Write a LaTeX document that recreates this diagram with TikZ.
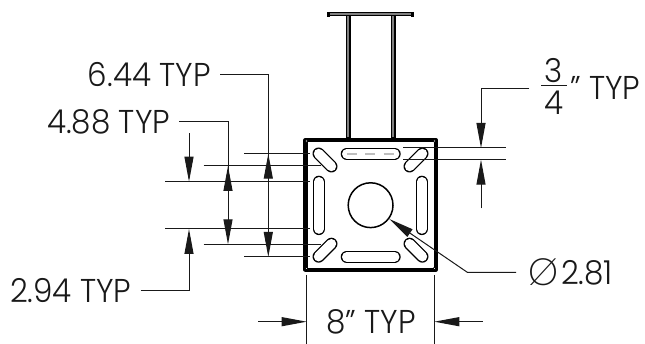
\documentclass[tikz,border=0pt]{standalone}
\usepackage{fontspec}
\setmainfont{Poppins}[UprightFont=* Light, FakeStretch=0.94]
\newfontfamily\symbolFont{Poppins}[UprightFont=* ExtraLight]
\usetikzlibrary{arrows.meta}
\tikzstyle{drawing} = [x = 1pt, y = -1pt]
\definecolor{hiddenColor}{RGB}{190,190,190}
\definecolor{lineColor}{RGB}{25,25,25}
\tikzstyle{dimLine} = [color=lineColor, line width=1pt]
\tikzstyle{dimArrow} = [dimLine, -{Triangle[length=25pt,width=9pt]}]
\tikzstyle{dimText} = [font=\fontsize{33}{35}\selectfont, color=lineColor, inner sep=9pt]
\tikzstyle{slotStyle} = [color=black, line width=1.3pt, double=white, double distance=9.6pt, line cap=round]
\tikzstyle{plateStyle} = [color=black, line width=4.2pt, line join=round]
\tikzstyle{pillarStyle} = [color=black, line width=1.2pt, fill=gray]
\newcommand{\leftExtension}[3]{\draw [dimLine] (#2,#1) -- (#3,#1);}
\newcommand{\slotLine}[4]{\draw [slotStyle] (#1,#2) -- (#3,#4);}
\newcommand{\plateCorner}[2]{\filldraw [color=black, fill=white, line width=.7pt] (#1,#2) circle (1.3pt);}
\begin{document}
\begin{tikzpicture}[drawing]
  \useasboundingbox (0,0) rectangle (645,344);
  % column and top flange
  \filldraw [pillarStyle] (346.5,15) rectangle (350,138);
  \filldraw [pillarStyle] (391.5,15) rectangle (395,138);
  \filldraw [pillarStyle] (329,12.8) rectangle (412.5,15.8);
  \draw [color=black, line width=3pt] (328.5,11.8) -- (328.5,16.8);
  \draw [color=black, line width=3pt] (412.5,11.8) -- (412.5,16.8);
  % plate
  \draw [plateStyle] (305.5,140) rectangle (435.7,269.7);
  \plateCorner{306.5}{141}
  \plateCorner{434.5}{141}
  \plateCorner{306.5}{268.5}
  \plateCorner{434.5}{268.5}
  \slotLine{346.8}{153.8}{394.6}{153.8}
  \slotLine{346.8}{256.8}{394.6}{256.8}
  \slotLine{318.8}{181.8}{318.8}{229}
  \slotLine{421.8}{181.8}{421.8}{229}
  \slotLine{318.6}{153.6}{331.4}{166.4}
  \slotLine{422.4}{153.6}{409.6}{166.4}
  \slotLine{318.6}{256.6}{331.4}{243.8}
  \slotLine{422.4}{256.6}{409.6}{243.8}
  \draw [color=hiddenColor, line width=1.2pt, dash pattern=on 10pt off 8.5pt] (346.7,154) -- (396,154);
  \draw [color=black, line width=1.5pt] (370.6,205.2) circle (22.4pt);
  % extension lines
  \leftExtension{153.7}{244.3}{310}
  \leftExtension{166}{203.5}{321}
  \leftExtension{181.7}{165}{310}
  \leftExtension{229}{165}{310}
  \leftExtension{244.3}{203.5}{321}
  \leftExtension{257}{244.3}{310}
  \leftExtension{148}{403}{505.7}
  \leftExtension{159.7}{403}{505.7}
  \draw [dimLine] (306.7,275) -- (306.7,344);
  \draw [dimLine] (434.3,275) -- (434.3,344);
  % labels
  \node [dimText, anchor=east] (sixLabel) at (220,75) {6.44 TYP};
  \node [dimText, anchor=east] (fourLabel) at (179.3,122) {4.88 TYP};
  \node [dimText, anchor=east] (twoLabel) at (140.7,291) {2.94 TYP};
  \node [dimText] (widthLabel) at (371,322) {8" TYP};
  \node [dimText, anchor=west] (holeLabel) at (552,272.5) {2.81};
  \node [font=\symbolFont\fontsize{38}{40}\selectfont, color=lineColor, inner sep=0pt] (holeSymbol) at (543.3,272.5) {Ø};
  \node [dimText, inner sep=0pt] (fracTop) at (554,70.5) {3};
  \node [dimText, inner sep=0pt] (fracBottom) at (554,103) {4};
  \node [dimText, anchor=west, inner sep=0pt] (fracLabel) at (570,87.5) {" TYP};
  \draw [dimLine] (541,86) -- (566.7,86);
  % dimension arrows
  \coordinate (sixUp) at (268.3,153.7);
  \coordinate (sixDown) at (268.3,257);
  \coordinate (fourUp) at (228,166);
  \coordinate (fourDown) at (228,244.3);
  \draw [dimArrow] (sixLabel.east) -| (sixDown);
  \draw [dimArrow] (268.3,180) -- (sixUp);
  \draw [dimArrow] (fourLabel.east) -| (fourDown);
  \draw [dimArrow] (228,192) -- (fourUp);
  \coordinate (twoTip) at (189,229);
  \coordinate (twoTop) at (189,133.3);
  \coordinate (twoUpperTip) at (189,181.7);
  \draw [dimArrow] (twoLabel.east) -| (twoTip);
  \draw [dimArrow] (twoTop) -- (twoUpperTip);
  \coordinate (fracStart) at (529.3,89);
  \coordinate (fracTip) at (481,148);
  \coordinate (fracEnd) at (481,208.3);
  \coordinate (fracLowerTip) at (481,159.7);
  \draw [dimArrow] (fracStart) -| (fracTip);
  \draw [dimArrow] (fracEnd) -- (fracLowerTip);
  \coordinate (widthLeft) at (258.3,321.7);
  \coordinate (widthLeftTip) at (306.7,321.7);
  \coordinate (widthRight) at (482.7,321.7);
  \coordinate (widthRightTip) at (434.3,321.7);
  \draw [dimArrow] (widthLeft) -- (widthLeftTip);
  \draw [dimArrow] (widthRight) -- (widthRightTip);
  \coordinate (holeTip) at (389.3,219);
  \coordinate (holeKnee) at (467.3,272.3);
  \coordinate (holeEnd) at (516,272.3);
  \draw [dimArrow] (holeEnd) -- (holeKnee) -- (holeTip);
\end{tikzpicture}
\end{document}
